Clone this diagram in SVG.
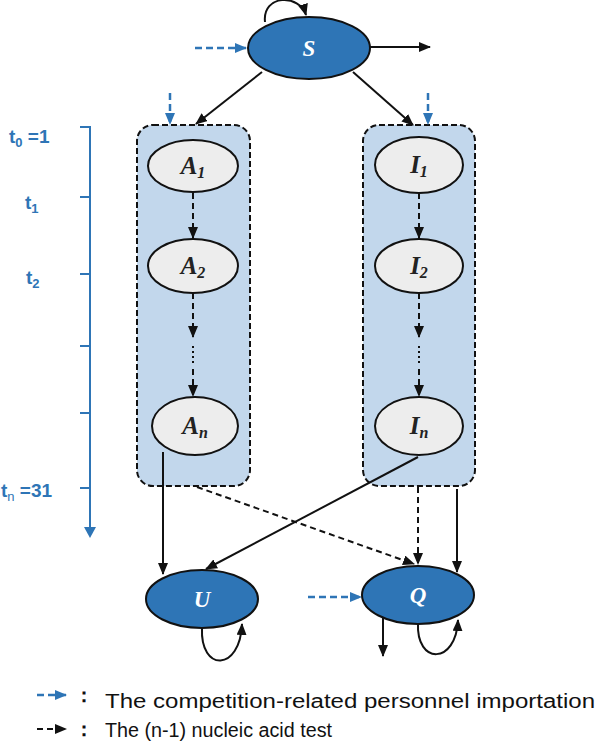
<svg xmlns="http://www.w3.org/2000/svg" width="597" height="755" viewBox="0 0 597 755">
<defs>
<style>
.box{fill:#C2D7EC;stroke:#111;stroke-width:2;stroke-dasharray:6,3}
.light{fill:#EDEDED;stroke:#111;stroke-width:2}
.dark{fill:#2E75B6;stroke:#111;stroke-width:2}
.ln{fill:none;stroke:#111;stroke-width:2}
.dash{fill:none;stroke:#111;stroke-width:2;stroke-dasharray:6,4}
.dot{fill:none;stroke:#111;stroke-width:2;stroke-dasharray:2,3}
.bdash{fill:none;stroke:#2E75B6;stroke-width:2.5;stroke-dasharray:7,4}
.bl{fill:none;stroke:#2E75B6;stroke-width:2}
.nl{font-family:"Liberation Serif",serif;font-weight:bold;font-style:italic;font-size:25px;text-anchor:middle;fill:#222}
.sub{font-size:16px}
.wl{font-family:"Liberation Serif",serif;font-weight:bold;font-style:italic;font-size:23px;text-anchor:middle;fill:#fff}
.tl{font-family:"Liberation Sans",sans-serif;font-weight:bold;font-size:19px;fill:#2E75B6}
.ts{font-size:13px}
.lg{font-family:"Liberation Sans",sans-serif;font-size:20px;fill:#111}
</style>
<marker id="ah" markerUnits="userSpaceOnUse" markerWidth="12" markerHeight="10" refX="11" refY="5" orient="auto"><path d="M0,0 L12,5 L0,10 z" fill="#111"/></marker>
<marker id="bh" markerUnits="userSpaceOnUse" markerWidth="12" markerHeight="10" refX="11" refY="5" orient="auto"><path d="M0,0 L12,5 L0,10 z" fill="#2E75B6"/></marker>
</defs>
<rect width="597" height="755" fill="#fff"/>

<g id="timeline">
<path class="bl" d="M80,127 H90 V530 M80,197 H90 M80,274 H90 M80,346 H90 M80,413 H90 M80,488 H90"/>
<path d="M84,527 L96,527 L90,538 z" fill="#2E75B6"/>
<text class="tl" x="9" y="143">t<tspan class="ts" dy="4">0</tspan><tspan dy="-4"> =1</tspan></text>
<text class="tl" x="25" y="209">t<tspan class="ts" dy="4">1</tspan></text>
<text class="tl" x="26" y="284">t<tspan class="ts" dy="4">2</tspan></text>
<text class="tl" x="1" y="497">t<tspan class="ts" dy="4" font-weight="normal">n</tspan><tspan dy="-4"> =31</tspan></text>
</g>

<g id="boxA"><rect class="box" x="137" y="125" width="113" height="361" rx="16"/></g>
<g id="boxI"><rect class="box" x="363" y="125" width="112" height="361" rx="16"/></g>

<g id="connectors">
<path class="ln" d="M265,22 C262,-6 300,-6 306,15" marker-end="url(#ah)"/>
<path class="bdash" d="M195,48 H246" marker-end="url(#bh)"/>
<path class="ln" d="M370,47 H430" marker-end="url(#ah)"/>
<path class="ln" d="M262,72 L196,124" marker-end="url(#ah)"/>
<path class="ln" d="M353,72 L413,125" marker-end="url(#ah)"/>
<path class="bdash" d="M170,93 V124" marker-end="url(#bh)"/>
<path class="bdash" d="M428,93 V124" marker-end="url(#bh)"/>
<path class="dash" d="M193,193 V238" marker-end="url(#ah)"/>
<path class="dash" d="M193,293 V337" marker-end="url(#ah)"/>
<path class="dot" d="M193,346 V366"/>
<path class="dash" d="M193,369 V396" marker-end="url(#ah)"/>
<path class="dash" d="M419,193 V238" marker-end="url(#ah)"/>
<path class="dash" d="M419,293 V337" marker-end="url(#ah)"/>
<path class="dot" d="M419,346 V366"/>
<path class="dash" d="M419,369 V396" marker-end="url(#ah)"/>
<path class="ln" d="M163,452 V574" marker-end="url(#ah)"/>
<path class="ln" d="M418,457 L206,569" marker-end="url(#ah)"/>
<path class="dash" d="M197,487 L414,564" marker-end="url(#ah)"/>
<path class="dash" d="M418,487 V564" marker-end="url(#ah)"/>
<path class="ln" d="M457,489 V572" marker-end="url(#ah)"/>
<path class="bdash" d="M308,597 H361" marker-end="url(#bh)"/>
<path class="ln" d="M202,628 C200,672 240,672 242,624" marker-end="url(#ah)"/>
<path class="ln" d="M418,623 C416,665 456,665 458,620" marker-end="url(#ah)"/>
<path class="ln" d="M383,618 V656" marker-end="url(#ah)"/>
</g>

<g id="S"><ellipse class="dark" cx="309" cy="48" rx="61" ry="31"/><text class="wl" x="309" y="56">S</text></g>
<g id="A1"><ellipse class="light" cx="193" cy="166" rx="45" ry="26"/><text class="nl" x="193" y="174">A<tspan class="sub" dy="4">1</tspan></text></g>
<g id="A2"><ellipse class="light" cx="193" cy="266" rx="45" ry="27"/><text class="nl" x="193" y="274">A<tspan class="sub" dy="4">2</tspan></text></g>
<g id="An"><ellipse class="light" cx="195" cy="426" rx="43" ry="29"/><text class="nl" x="195" y="434">A<tspan class="sub" dy="4">n</tspan></text></g>
<g id="I1"><ellipse class="light" cx="419" cy="165" rx="44" ry="28"/><text class="nl" x="419" y="173">I<tspan class="sub" dy="4">1</tspan></text></g>
<g id="I2"><ellipse class="light" cx="419" cy="266" rx="44" ry="27"/><text class="nl" x="419" y="274">I<tspan class="sub" dy="4">2</tspan></text></g>
<g id="In"><ellipse class="light" cx="419" cy="426" rx="44" ry="29"/><text class="nl" x="419" y="434">I<tspan class="sub" dy="4">n</tspan></text></g>
<g id="U"><ellipse class="dark" cx="202" cy="599" rx="56" ry="29"/><text class="wl" x="202" y="607">U</text></g>
<g id="Q"><ellipse class="dark" cx="418" cy="595" rx="56" ry="29"/><text class="wl" x="418" y="603">Q</text></g>

<g id="legend">
<path class="bdash" d="M37,695 H66" stroke-dasharray="5,3" marker-end="url(#bh)"/>
<path class="dash" d="M37,729 H66" stroke-dasharray="5,3" marker-end="url(#ah)"/>
<text class="lg" x="74" y="702" font-family="'Noto Sans CJK SC',sans-serif" font-weight="bold">：</text>
<text class="lg" x="74" y="736" font-family="'Noto Sans CJK SC',sans-serif" font-weight="bold">：</text>
<text class="lg" x="105" y="708" textLength="490" lengthAdjust="spacingAndGlyphs">The competition-related personnel importation</text>
<text class="lg" x="105" y="737" textLength="227" lengthAdjust="spacingAndGlyphs">The (n-1) nucleic acid test</text>
</g>
</svg>
